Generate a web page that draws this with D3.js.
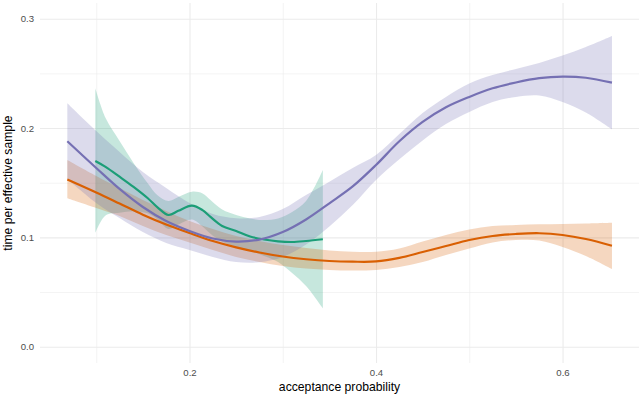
<!DOCTYPE html>
<html>
<head>
<meta charset="utf-8">
<script src="https://cdn.jsdelivr.net/npm/d3@7"></script>
<style>
  html, body { margin: 0; padding: 0; background: #fff; }
  svg { display: block; font-family: "Liberation Sans", Arial, Helvetica, sans-serif; }
</style>
</head>
<body>
<svg id="chart" width="640" height="396"></svg>
<script>
// ---- data ----
const xGrid = [0.069, 0.10, 0.125, 0.15, 0.175, 0.2, 0.225, 0.25, 0.275, 0.3, 0.325, 0.35,
               0.375, 0.4, 0.425, 0.45, 0.475, 0.5, 0.525, 0.55, 0.575, 0.6, 0.625, 0.653];

const purpleFit = [0.1879, 0.1635, 0.1443, 0.1278, 0.1150, 0.1059, 0.0990, 0.0962, 0.0980, 0.1049, 0.1164, 0.1312,
                   0.1466, 0.1662, 0.1879, 0.2056, 0.2190, 0.2285, 0.2364, 0.2417, 0.2456, 0.2470, 0.2460, 0.2415];
const purpleHi  = [0.2227, 0.1973, 0.1781, 0.1598, 0.1452, 0.1315, 0.1214, 0.1175, 0.1187, 0.1260, 0.1388, 0.1510,
                   0.1635, 0.1754, 0.1946, 0.2138, 0.2285, 0.2408, 0.2486, 0.2541, 0.2596, 0.2664, 0.2742, 0.2843];
const purpleLo  = [0.1534, 0.1315, 0.1177, 0.1049, 0.0949, 0.0885, 0.0821, 0.0775, 0.0773, 0.0821, 0.0935, 0.1100,
                   0.1296, 0.1525, 0.1714, 0.1887, 0.2037, 0.2147, 0.2239, 0.2285, 0.2298, 0.2239, 0.2143, 0.1989];

const orangeFit = [0.1530, 0.1411, 0.1310, 0.1208, 0.1118, 0.1040, 0.0967, 0.0909, 0.0862, 0.0825, 0.0800, 0.0784,
                   0.0778, 0.0780, 0.0812, 0.0866, 0.0921, 0.0976, 0.1013, 0.1031, 0.1038, 0.1022, 0.0985, 0.0924];
const orangeHi  = [0.1708, 0.1562, 0.1452, 0.1342, 0.1242, 0.1150, 0.1077, 0.1013, 0.0967, 0.0930, 0.0903, 0.0880,
                   0.0869, 0.0869, 0.0898, 0.0962, 0.1022, 0.1072, 0.1104, 0.1113, 0.1120, 0.1123, 0.1127, 0.1134];
const orangeLo  = [0.1358, 0.1269, 0.1196, 0.1104, 0.1022, 0.0953, 0.0885, 0.0821, 0.0775, 0.0738, 0.0715, 0.0702,
                   0.0697, 0.0702, 0.0730, 0.0775, 0.0839, 0.0898, 0.0953, 0.0976, 0.0972, 0.0912, 0.0830, 0.0711];

const greenX   = [0.099, 0.11, 0.125, 0.14, 0.155, 0.166, 0.1775, 0.188, 0.2026, 0.214, 0.2222, 0.235,
                  0.25, 0.265, 0.28, 0.295, 0.31, 0.325, 0.343];
const greenFit = [0.1699, 0.1645, 0.1555, 0.1462, 0.1360, 0.1273, 0.1205, 0.1243, 0.1290, 0.1249, 0.1189, 0.1104,
                  0.1059, 0.1008, 0.0981, 0.0964, 0.0958, 0.0967, 0.0983];
const greenHi  = [0.2364, 0.2092, 0.1882, 0.1681, 0.1498, 0.1383, 0.1333, 0.1370, 0.1418, 0.1402, 0.1344, 0.1255,
                  0.1205, 0.1173, 0.1159, 0.1173, 0.1232, 0.1333, 0.1617];
const greenLo  = [0.1040, 0.1200, 0.1225, 0.1240, 0.1220, 0.1162, 0.1077, 0.1118, 0.1164, 0.1100, 0.1035, 0.0960,
                  0.0915, 0.0880, 0.0830, 0.0775, 0.0674, 0.0555, 0.0351];

const xMajorTicks = [0.2, 0.4, 0.6];
const xMinorTicks = [0.1, 0.3, 0.5];
const yMajorTicks = [0.0, 0.1, 0.2, 0.3];
const yMinorTicks = [0.05, 0.15, 0.25];

const xTitle = "acceptance probability";
const yTitle = "time per effective sample";

// ---- layout ----
const svg = d3.select("#chart");
const panel = { left: 40, right: 639, top: 3, bottom: 363 };
const x = d3.scaleLinear().domain([0.0397, 0.682]).range([panel.left, panel.right]);
const y = d3.scaleLinear().domain([-0.0149, 0.3144]).range([panel.bottom, panel.top]);

const gridColor = "#ebebeb";
const W = panel.right - panel.left, H = panel.bottom - panel.top;

// minor grid
svg.append("g").attr("transform", `translate(${panel.left},0)`)
  .call(d3.axisLeft(y).tickValues(yMinorTicks).tickSize(-W).tickFormat(""))
  .call(g => g.select(".domain").remove())
  .call(g => g.selectAll("line").attr("stroke", gridColor).attr("stroke-width", 0.6));
svg.append("g").attr("transform", `translate(0,${panel.bottom})`)
  .call(d3.axisBottom(x).tickValues(xMinorTicks).tickSize(-H).tickFormat(""))
  .call(g => g.select(".domain").remove())
  .call(g => g.selectAll("line").attr("stroke", gridColor).attr("stroke-width", 0.6));

// major grid + labels
svg.append("g").attr("transform", `translate(${panel.left},0)`)
  .call(d3.axisLeft(y).tickValues(yMajorTicks).tickSize(-W).tickPadding(6).tickFormat(d3.format(".1f")))
  .call(g => g.select(".domain").remove())
  .call(g => g.selectAll("line").attr("stroke", gridColor).attr("stroke-width", 1.1))
  .call(g => g.selectAll("text").attr("fill", "#4d4d4d").style("font-size", "9.6px")
      .style("font-family", '"Liberation Sans", Arial, sans-serif'));
svg.append("g").attr("transform", `translate(0,${panel.bottom})`)
  .call(d3.axisBottom(x).tickValues(xMajorTicks).tickSize(-H).tickPadding(6).tickFormat(d3.format(".1f")))
  .call(g => g.select(".domain").remove())
  .call(g => g.selectAll("line").attr("stroke", gridColor).attr("stroke-width", 1.1))
  .call(g => g.selectAll("text").attr("fill", "#4d4d4d").style("font-size", "9.6px")
      .style("font-family", '"Liberation Sans", Arial, sans-serif'));

// ---- series ----
const series = [
  { name: "green",  color: "#1B9E77", xs: greenX, fit: greenFit,  lo: greenLo,  hi: greenHi },
  { name: "orange", color: "#D95F02", xs: xGrid,  fit: orangeFit, lo: orangeLo, hi: orangeHi },
  { name: "purple", color: "#7570B3", xs: xGrid,  fit: purpleFit, lo: purpleLo, hi: purpleHi }
];

const curve = d3.curveCatmullRom.alpha(0.5);
const area = d3.area().x(d => x(d.x)).y0(d => y(d.lo)).y1(d => y(d.hi)).curve(curve);
const line = d3.line().x(d => x(d.x)).y(d => y(d.fit)).curve(curve);

series.forEach(s => {
  s.pts = s.xs.map((xv, i) => ({ x: xv, fit: s.fit[i], lo: s.lo[i], hi: s.hi[i] }));
});

const gRibbons = svg.append("g");
series.forEach(s => {
  gRibbons.append("path").datum(s.pts).attr("d", area)
    .attr("fill", s.color).attr("fill-opacity", 0.25).attr("stroke", "none");
});
const gLines = svg.append("g");
series.forEach(s => {
  gLines.append("path").datum(s.pts).attr("d", line)
    .attr("fill", "none").attr("stroke", s.color).attr("stroke-width", 2.2)
    .attr("stroke-linejoin", "round").attr("stroke-linecap", "butt");
});

// ---- axis titles ----
svg.append("text")
  .attr("x", (panel.left + panel.right) / 2).attr("y", 391)
  .attr("text-anchor", "middle").attr("fill", "#000")
  .style("font-size", "12.2px").text(xTitle);
svg.append("text")
  .attr("transform", `translate(12,${(panel.top + panel.bottom) / 2}) rotate(-90)`)
  .attr("text-anchor", "middle").attr("fill", "#000")
  .style("font-size", "12.2px").text(yTitle);
</script>
</body>
</html>
